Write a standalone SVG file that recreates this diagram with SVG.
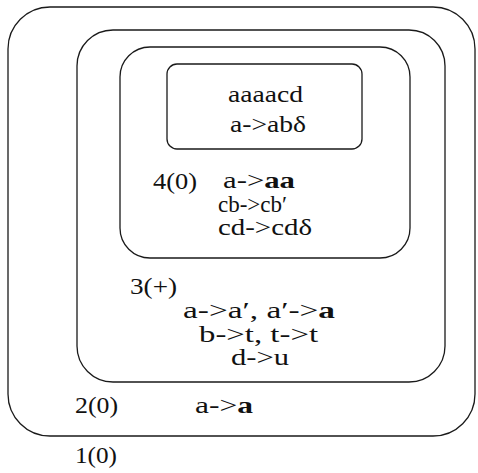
<svg xmlns="http://www.w3.org/2000/svg" width="478" height="473" viewBox="0 0 478 473">
<style>
.box{fill:none;stroke:#1a1a1a;stroke-width:1.3}
.b{font-weight:bold}
</style>
<rect x="0" y="0" width="478" height="473" fill="#fff"/>
<g font-family="Liberation Serif, Times New Roman, serif" font-size="23" fill="#111">
<g id="region1">
<rect class="box" x="8" y="7" width="467" height="429" rx="42" ry="42"/>
<text x="75" y="463" textLength="42" lengthAdjust="spacingAndGlyphs">1(0)</text>
</g>
<g id="region2">
<rect class="box" x="77" y="30" width="368" height="352" rx="36" ry="36"/>
<text x="75" y="413" textLength="43" lengthAdjust="spacingAndGlyphs">2(0)</text>
<text x="195" y="413" textLength="58" lengthAdjust="spacingAndGlyphs">a-&gt;<tspan class="b">a</tspan></text>
</g>
<g id="region3">
<rect class="box" x="120" y="47" width="290" height="211" rx="30" ry="30"/>
<text x="130" y="294" textLength="47" lengthAdjust="spacingAndGlyphs">3(+)</text>
<text x="183" y="318" textLength="152" lengthAdjust="spacingAndGlyphs">a-&gt;a′,  a′-&gt;<tspan class="b">a</tspan></text>
<text x="199" y="342" textLength="119" lengthAdjust="spacingAndGlyphs">b-&gt;t,  t-&gt;t</text>
<text x="231" y="365" textLength="58" lengthAdjust="spacingAndGlyphs">d-&gt;u</text>
</g>
<g id="region4">
<rect class="box" x="167" y="64" width="195" height="85" rx="10" ry="10"/>
<text x="228" y="102" textLength="75" lengthAdjust="spacingAndGlyphs">aaaacd</text>
<text x="230" y="132" textLength="76" lengthAdjust="spacingAndGlyphs">a-&gt;abδ</text>
<text x="153" y="189" textLength="44" lengthAdjust="spacingAndGlyphs">4(0)</text>
<text x="223" y="188" textLength="72" lengthAdjust="spacingAndGlyphs">a-&gt;<tspan class="b">aa</tspan></text>
<text x="218" y="212">cb-&gt;cb′</text>
<text x="218" y="235" textLength="94" lengthAdjust="spacingAndGlyphs">cd-&gt;cdδ</text>
</g>
</g>
</svg>
